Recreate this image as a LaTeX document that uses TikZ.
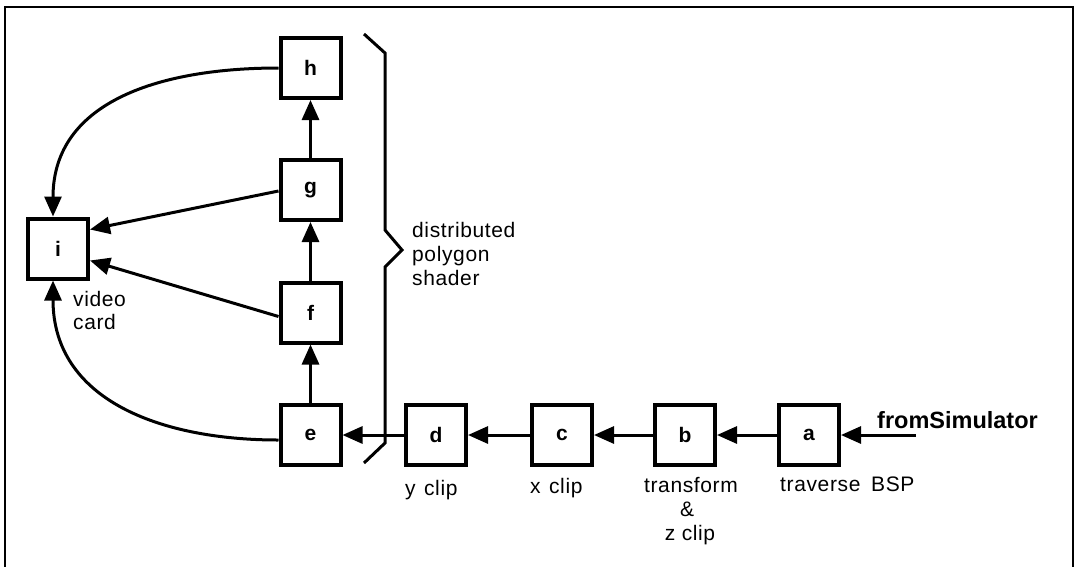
\documentclass[tikz,border=0pt]{standalone}
\usepackage{fontspec}
\setmainfont{Liberation Sans}
\newfontfamily\lab[LetterSpace=3]{Liberation Sans}
\usetikzlibrary{arrows.meta}
\tikzset{
  box/.style={draw, line width=4pt, minimum size=60pt, inner sep=0pt,
    font=\fontsize{21}{24}\selectfont\bfseries},
  arr/.style={line width=3pt, -{Triangle[length=20pt,width=17pt]}},
  txt/.style={inner sep=0pt, anchor=base west, font=\lab\fontsize{21}{24}\selectfont},
  ctxt/.style={inner sep=0pt, anchor=base, font=\lab\fontsize{21}{24}\selectfont},
  frame/.style={line width=2pt},
  bracestyle/.style={line width=3pt, line join=miter}
}
\begin{document}
\begin{tikzpicture}[x=1pt,y=-1pt]
\useasboundingbox (0,0) rectangle (1075,566);
\draw[frame] (5,570) -- (5,7) -- (1073,7) -- (1073,570);

% boxes
\node[box] (h) at (310.5,68) {h};
\node[box] (g) at (310.5,190) {g};
\node[box] (f) at (310.5,312.5) {f};
\node[box] (e) at (310.5,435) {e};
\node[box] (i) at (58,248.5) {i};
\node[box] (d) at (436,435) {d};
\node[box] (c) at (562,435) {c};
\node[box] (b) at (685,435) {b};
\node[box] (a) at (809,435) {a};

% brace
\draw[bracestyle] (364,34) -- (385,53) -- (385,230) -- (402,250) -- (385,267) -- (385,443) -- (364,463);

% vertical chain
\draw[arr] (e) -- (f);
\draw[arr] (f) -- (g);
\draw[arr] (g) -- (h);

% horizontal chain
\coordinate (in) at (916,435);
\draw[arr] (in) -- (a);
\draw[arr] (a) -- (b);
\draw[arr] (b) -- (c);
\draw[arr] (c) -- (d);
\draw[arr] (d) -- (e);

% to video card
\draw[arr] (h.west) to[out=180,in=90,looseness=1.1] ([xshift=-5pt]i.north);
\draw[arr] ([yshift=-1pt]g.west) -- ([yshift=19pt]i.east);
\draw[arr] ([yshift=-4pt]f.west) -- ([yshift=-12pt]i.east);
\draw[arr] ([yshift=-5pt]e.west) to[out=180,in=-90,looseness=1.1] ([xshift=-5pt]i.south);

% labels
\node[txt] (t1) at (412,237) {distributed};
\node[txt] (t2) at (412,261) {polygon};
\node[txt] (t3) at (412,285) {shader};
\node[txt] (t4) at (73,306) {video};
\node[txt] (t5) at (73,329) {card};
\node[txt] (t6) at (405,495) {y\hspace{0.4em}clip};
\node[txt] (t7) at (530,493) {x\hspace{0.4em}clip};
\node[ctxt] (t8) at (691,492) {transform};
\node[ctxt] (t9) at (687,516) {\&};
\node[ctxt] (t10) at (690,540) {z clip};
\node[txt] (t11) at (780,491) {traverse};
\node[txt] (t12) at (871,491) {BSP};
\node[inner sep=0pt, anchor=base west, font=\fontsize{23.5}{26}\selectfont\bfseries] (t13) at (877,428) {fromSimulator};
\end{tikzpicture}
\end{document}
